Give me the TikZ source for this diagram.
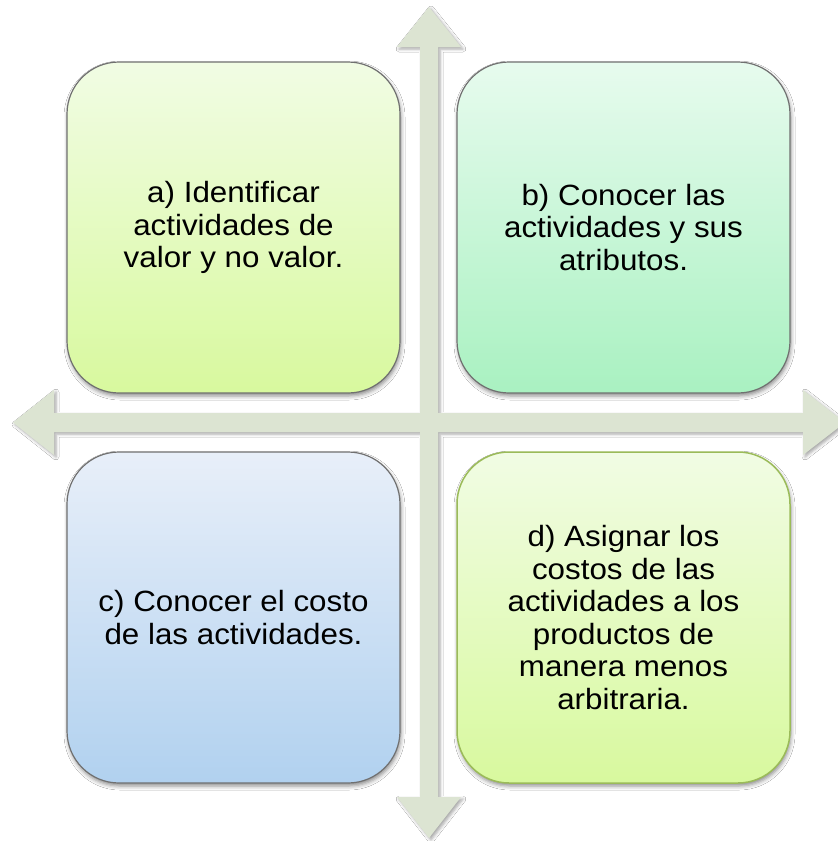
\documentclass[tikz,border=0pt]{standalone}
\usepackage{fontspec}
\newfontfamily\boxfont[FakeStretch=1.07]{Liberation Sans}
\usetikzlibrary{shadows.blur}
\definecolor{arrowfill}{HTML}{DCE4D2}
\definecolor{aTop}{HTML}{F1FCE4}
\definecolor{aBot}{HTML}{D8F99E}
\definecolor{bTop}{HTML}{E7FBEE}
\definecolor{bBot}{HTML}{A9F1C1}
\definecolor{cTop}{HTML}{E8EFF9}
\definecolor{cBot}{HTML}{B1D1EF}
\definecolor{grayline}{HTML}{707070}
\definecolor{greenline}{HTML}{9BBB59}
\tikzset{
  quad/.style={draw=grayline, line width=1.2pt, rounded corners=52pt,
    minimum width=333pt, minimum height=331pt, inner sep=0pt, align=center,
    font=\boxfont\fontsize{29.3}{32.5}\selectfont,
    blur shadow={shadow xshift=1pt, shadow yshift=-3pt, shadow blur radius=4pt, shadow opacity=45}},
  crossarrow/.style={fill=arrowfill, draw=none,
    blur shadow={shadow xshift=2pt, shadow yshift=-2pt, shadow blur radius=3pt, shadow opacity=35}}
}
\begin{document}
\begin{tikzpicture}[x=1pt, y=-1pt]
\useasboundingbox (0,0) rectangle (838,841);
\clip (0,0) rectangle (838,841);
\fill[white] (0,0) rectangle (838,841);
% cross of arrows
\path[crossarrow] (429,7) -- (461,47) -- (438,47) -- (438,413) -- (803,413) -- (803,390)
  -- (845,422.5) -- (803,455) -- (803,432) -- (438,432) -- (438,797) -- (461,797)
  -- (429,838) -- (397,797) -- (420,797) -- (420,432) -- (54,432) -- (54,455)
  -- (13,422.5) -- (54,390) -- (54,413) -- (420,413) -- (420,47) -- (397,47) -- cycle;
% boxes
\node[quad, top color=aTop, bottom color=aBot] (a) at (233.5,227.5)
  {a) Identificar\\actividades de\\valor y no valor.};
\node[quad, top color=bTop, bottom color=bBot] (b) at (623.5,227.5)
  {b) Conocer las\\actividades y sus\\atributos.};
\node[quad, top color=cTop, bottom color=cBot] (c) at (233.5,617.5)
  {c) Conocer el costo\\de las actividades.};
\node[quad, draw=greenline, line width=1.5pt, top color=aTop, bottom color=aBot] (d) at (623.5,617.5)
  {d) Asignar los\\costos de las\\actividades a los\\productos de\\manera menos\\arbitraria.};
\end{tikzpicture}
\end{document}
